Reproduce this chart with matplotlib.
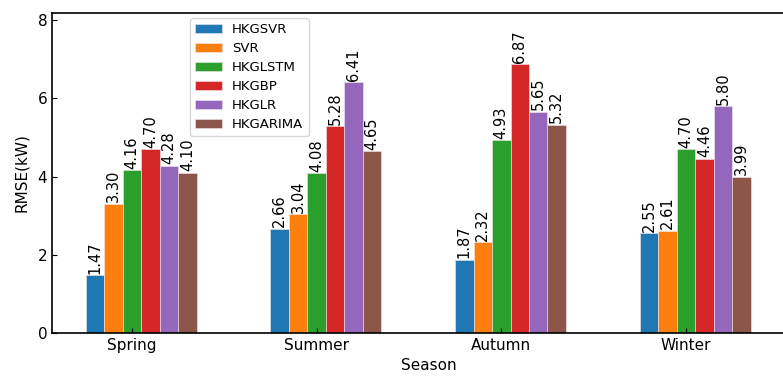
import matplotlib
matplotlib.use("Agg")
import matplotlib.pyplot as plt
import numpy as np

seasons = ["Spring", "Summer", "Autumn", "Winter"]
models = ["HKGSVR", "SVR", "HKGLSTM", "HKGBP", "HKGLR", "HKGARIMA"]
hkgsvr = [1.47, 2.66, 1.87, 2.55]
svr = [3.30, 3.04, 2.32, 2.61]
hkglstm = [4.16, 4.08, 4.93, 4.70]
hkgbp = [4.70, 5.28, 6.87, 4.46]
hkglr = [4.28, 6.41, 5.65, 5.80]
hkgarima = [4.10, 4.65, 5.32, 3.99]
series = [hkgsvr, svr, hkglstm, hkgbp, hkglr, hkgarima]
colors = ["#1f77b4", "#ff7f0e", "#2ca02c", "#d62728", "#9467bd", "#8c564b"]

fig = plt.figure(figsize=(7.83, 3.78), dpi=100)
ax = fig.add_axes([52 / 783, 1 - 333 / 378, (806 - 52) / 783, (333 - 13) / 378])

x = np.arange(len(seasons))
width = 0.1
for i, (name, vals) in enumerate(zip(models, series)):
    pos = x + (i - 2) * width
    bars = ax.bar(pos, vals, width, label=name, color=colors[i],
                  edgecolor="#f4e8e8", linewidth=0.4)
    for b, v in zip(bars, vals):
        ax.text(b.get_x() + b.get_width() / 2, v + 0.04, f"{v:.2f}",
                ha="center", va="bottom", rotation=90, fontsize=10.5)

ax.set_xticks(x)
ax.set_xticklabels(seasons)
ax.set_xlim(-0.433, 3.65)
ax.set_ylim(0, 8.18)
ax.set_yticks([0, 2, 4, 6, 8])
ax.tick_params(direction="in", labelsize=11)
ax.set_xlabel("Season", fontsize=11)
ax.set_ylabel("RMSE(kW)", fontsize=11, labelpad=6)
for s in ax.spines.values():
    s.set_linewidth(1.2)

ax.legend(loc="upper left", bbox_to_anchor=(0.183, 0.984), borderaxespad=0,
          fontsize=9.5, handlelength=2.0, labelspacing=0.45)

fig.savefig("out.png", dpi=100)
